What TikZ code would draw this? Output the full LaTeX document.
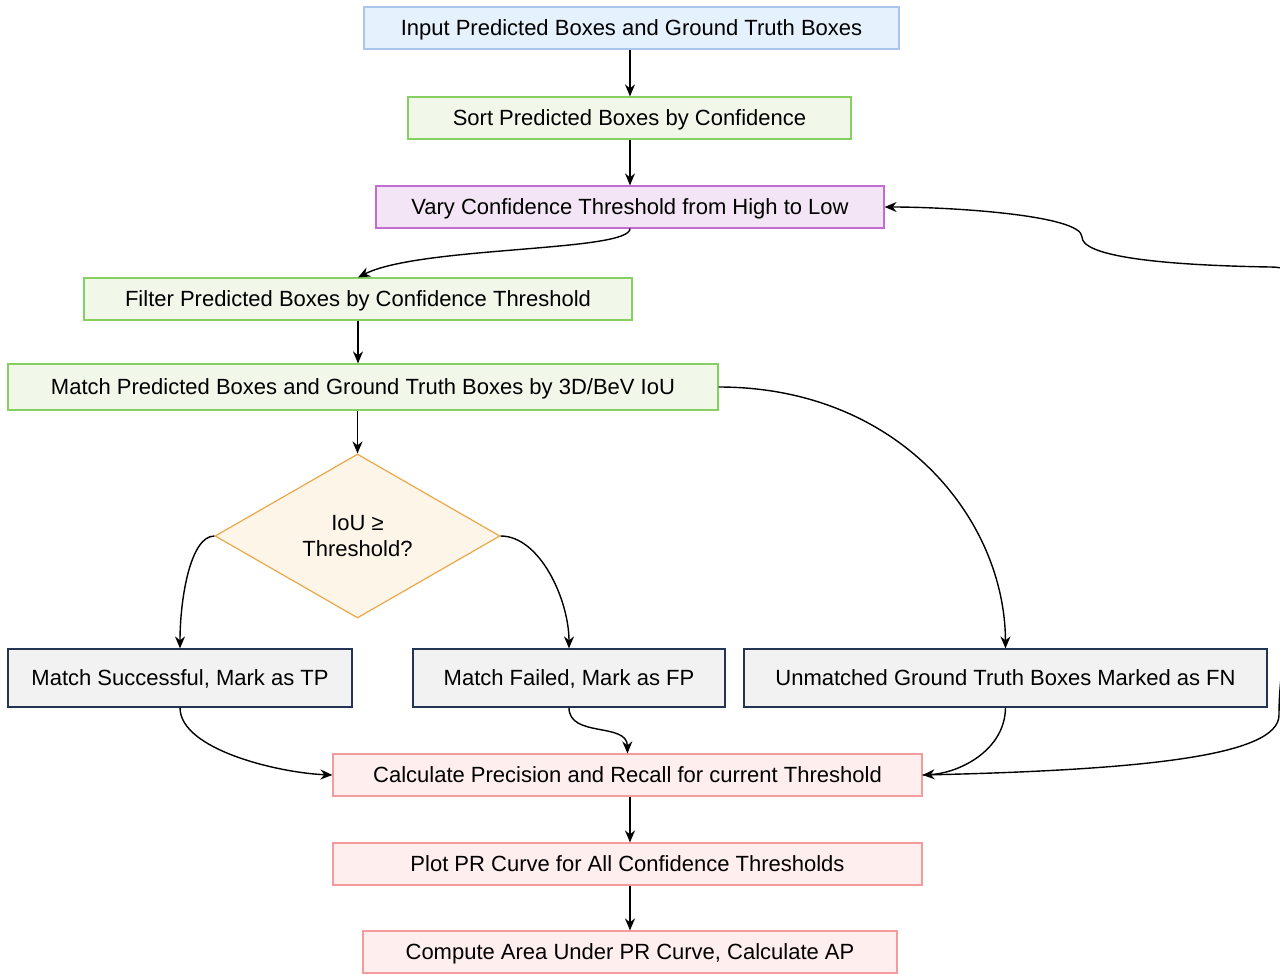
\documentclass[tikz,border=0pt]{standalone}
\usepackage{fontspec}
\setmainfont{Liberation Sans}
\usetikzlibrary{shapes.geometric,arrows.meta}
\definecolor{inputFill}{RGB}{229,241,253}
\definecolor{inputDraw}{RGB}{169,198,236}
\definecolor{stepFill}{RGB}{241,248,234}
\definecolor{stepDraw}{RGB}{134,208,98}
\definecolor{varyFill}{RGB}{243,229,245}
\definecolor{varyDraw}{RGB}{192,108,208}
\definecolor{decFill}{RGB}{253,245,232}
\definecolor{decDraw}{RGB}{234,168,70}
\definecolor{resFill}{RGB}{242,242,242}
\definecolor{resDraw}{RGB}{35,52,85}
\definecolor{calcFill}{RGB}{255,238,238}
\definecolor{calcDraw}{RGB}{244,155,155}

\begin{document}
\begin{tikzpicture}[x=0.5pt, y=-0.5pt, font=\fontsize{11}{13}\selectfont]
		\useasboundingbox (0,0) rectangle (1280,974);
		\tikzset{box/.style={draw, line width=0.6pt, inner sep=0pt, minimum height=21pt, text height=10pt, text depth=2.4pt}}

		% Top of the pipeline
		\node (input) at (631.5,28) [box, fill=inputFill, draw=inputDraw, minimum width=267.5pt] {Input Predicted Boxes and Ground Truth Boxes};
		\begin{scope}[every node/.style={box, fill=stepFill, draw=stepDraw}]
			\node (sort) at (629.5,118) [minimum width=221.5pt] {Sort Predicted Boxes by Confidence};
		\end{scope}
		\node (vary) at (630,207) [box, fill=varyFill, draw=varyDraw, minimum width=254pt] {Vary Confidence Threshold from High to Low};
		\begin{scope}[every node/.style={box, fill=stepFill, draw=stepDraw}]
			\node (filt) at (358,299) [minimum width=274pt] {Filter Predicted Boxes by Confidence Threshold};
			\node (match) at (363,387) [minimum width=355pt, minimum height=23pt] {Match Predicted Boxes and Ground Truth Boxes by 3D/BeV IoU};
		\end{scope}

		% Decision
		\node (dia) at (357.5,536) [diamond, draw=decDraw, fill=decFill, line width=0.6pt, inner sep=0pt, minimum width=142.5pt, minimum height=82pt, align=center] {IoU ≥\\Threshold?};

		% Results
		\begin{scope}[every node/.style={box, fill=resFill, draw=resDraw, minimum height=29pt}]
			\node (tp) at (180,678) [minimum width=172pt] {Match Successful, Mark as TP};
			\node (fp) at (569,678) [minimum width=156pt] {Match Failed, Mark as FP};
			\node (fn) at (1005.5,678) [minimum width=261.5pt] {Unmatched Ground Truth Boxes Marked as FN};
		\end{scope}

		% Evaluation
		\begin{scope}[every node/.style={box, fill=calcFill, draw=calcDraw}]
			\node (calc) at (627.5,775) [minimum width=294.5pt] {Calculate Precision and Recall for current Threshold};
			\node (plot) at (627.5,864) [minimum width=294.5pt] {Plot PR Curve for All Confidence Thresholds};
			\node (ap) at (630,952) [minimum width=267pt] {Compute Area Under PR Curve, Calculate AP};
		\end{scope}

		% Arrows
		\begin{scope}[every path/.style={draw, line width=0.7pt, -{Stealth[length=6pt, width=5pt]}}]
			\path (vary.north |- input.south) -- (vary.north |- sort.north);
			\path (vary.north |- sort.south) -- (vary.north);
			\path (vary.south) .. controls (630,252) and (420,246) .. (filt.north);
			\path (filt.south) -- (filt.south |- match.north);
			\path (dia.north |- match.south) -- (dia.north);
			\path (dia.west) .. controls (190,536) and (180,600) .. (tp.north);
			\path (dia.east) .. controls (540,536) and (569,600) .. (fp.north);
			\path (match.east) .. controls (900,387) and (1005,520) .. (fn.north);
			\path (tp.south) .. controls (180,750) and (280,773) .. (calc.west);
			\path (fp.south) .. controls (569,738) and (627,722) .. (calc.north);
			\path (fn.south) .. controls (1005,750) and (960,773) .. (calc.east);
			\path (ap.north |- calc.south) -- (ap.north |- plot.north);
			\path (ap.north |- plot.south) -- (ap.north);
			\path (calc.east) .. controls (1150,770) and (1279,755) .. (1279,715) .. controls (1279,600) and (1340,500) .. (1340,400) .. controls (1340,300) and (1310,267) .. (1270,267) .. controls (1150,265) and (1082,255) .. (1082,237) .. controls (1082,215) and (950,207) .. (vary.east);
		\end{scope}
	\end{tikzpicture}
\end{document}
